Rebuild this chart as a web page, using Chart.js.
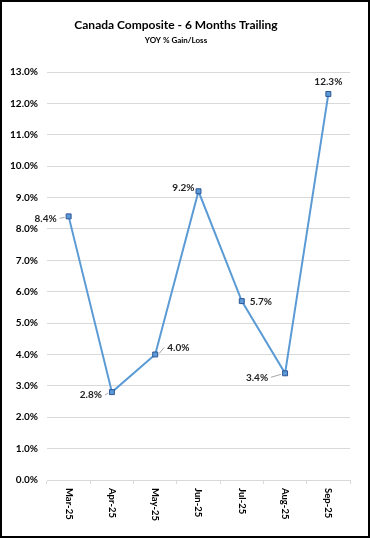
<!DOCTYPE html>
<html lang="en">
<head>
  <meta charset="UTF-8">
  <title>Canada Composite - 6 Months Trailing</title>
  <script src="https://cdn.jsdelivr.net/npm/chart.js"></script>
  <style>
    html, body { margin: 0; padding: 0; background: #fff; }
    #frame { width: 366px; height: 534px; border: 2px solid #000; position: relative; }
    canvas { display: block; }
  </style>
</head>
<body>
  <div id="frame"><canvas id="chart" width="366" height="534"></canvas></div>

  <script>
    // Chart data
    const months = ['Mar-25', 'Apr-25', 'May-25', 'Jun-25', 'Jul-25', 'Aug-25', 'Sep-25'];
    const gainLoss = [8.4, 2.8, 4.0, 9.2, 5.7, 3.4, 12.3];
    const yTicks = [0, 1, 2, 3, 4, 5, 6, 7, 8, 9, 10, 11, 12, 13];

    // where each data label sits relative to its point: [dx, dy, align, leader line?]
    const labelPlacement = [
      [-10, 2, 'right', true],
      [-8, 3, 'right', true],
      [10, -7, 'left', true],
      [-4, -3, 'right', false],
      [8, 1, 'left', false],
      [-15, 4, 'right', true],
      [0, -12, 'center', false]
    ];

    const FONT = 'Lato, "Open Sans", sans-serif';

    // x labels are rotated clockwise (read top to bottom), so draw them ourselves
    const rotatedXLabels = {
      id: 'rotatedXLabels',
      afterDraw(chart) {
        const { ctx, chartArea } = chart;
        const xScale = chart.scales.x;
        ctx.save();
        ctx.font = 'bold 9.5px ' + FONT;
        ctx.fillStyle = '#000';
        ctx.textAlign = 'left';
        ctx.textBaseline = 'middle';
        months.forEach((m, i) => {
          ctx.save();
          ctx.translate(xScale.getPixelForValue(i), chartArea.bottom + 8);
          ctx.rotate(Math.PI / 2);
          ctx.fillText(m, 0, 0);
          ctx.restore();
        });
        ctx.restore();
      }
    };

    const pointLabels = {
      id: 'pointLabels',
      afterDatasetsDraw(chart) {
        const { ctx } = chart;
        const meta = chart.getDatasetMeta(0);
        ctx.save();
        ctx.font = 'bold 10px ' + FONT;
        ctx.textBaseline = 'middle';
        meta.data.forEach((pt, i) => {
          const [dx, dy, align, leader] = labelPlacement[i];
          if (leader) {
            // small grey leader line between label and marker
            const sx = pt.x + dx + (dx < 0 ? 1 : -1);
            ctx.strokeStyle = '#a6a6a6';
            ctx.lineWidth = 1;
            ctx.beginPath();
            ctx.moveTo(sx, pt.y + dy);
            ctx.lineTo(pt.x + (dx < 0 ? -4 : 4), pt.y + (dy > 0 ? 1 : -1));
            ctx.stroke();
          }
          ctx.fillStyle = '#222';
          ctx.textAlign = align;
          ctx.fillText(gainLoss[i].toFixed(1) + '%', pt.x + dx + (leader ? (dx < 0 ? -2 : 2) : 0), pt.y + dy);
        });
        ctx.restore();
      }
    };

    new Chart(document.getElementById('chart'), {
      type: 'line',
      data: {
        labels: months,
        datasets: [{
          data: gainLoss,
          borderColor: '#5b9bd5',
          borderWidth: 2,
          tension: 0,
          pointStyle: 'rect',
          pointRadius: 3.5,
          pointBackgroundColor: '#5b9bd5',
          pointBorderColor: '#2f5597',
          pointBorderWidth: 1
        }]
      },
      options: {
        responsive: false,
        animation: false,
        layout: { padding: { top: 0, right: 18, bottom: 52, left: 0 } },
        plugins: {
          legend: { display: false },
          tooltip: { enabled: false },
          title: {
            display: true,
            text: 'Canada Composite - 6 Months Trailing',
            color: '#000',
            font: { family: FONT, size: 12, weight: 'bold' },
            padding: { top: 16, bottom: 3 }
          },
          subtitle: {
            display: true,
            text: 'YOY % Gain/Loss',
            color: '#000',
            font: { family: FONT, size: 8, weight: 'bold' },
            padding: { top: 0, bottom: 27 }
          }
        },
        scales: {
          x: {
            offset: true,
            grid: { offset: true, drawOnChartArea: false, tickLength: 4, color: '#d9d9d9' },
            border: { color: '#d9d9d9' },
            ticks: { display: false }
          },
          y: {
            min: 0,
            max: 13,
            afterBuildTicks(scale) { scale.ticks = yTicks.map(v => ({ value: v })); },
            afterFit(scale) { scale.width = 45; },
            grid: { color: '#d9d9d9', drawTicks: false, lineWidth: 1 },
            border: { display: false },
            ticks: {
              padding: 9,
              color: '#000',
              font: { family: FONT, size: 10, weight: 'bold' },
              callback: v => v.toFixed(1) + '%'
            }
          }
        }
      },
      plugins: [rotatedXLabels, pointLabels]
    });
  </script>
</body>
</html>
